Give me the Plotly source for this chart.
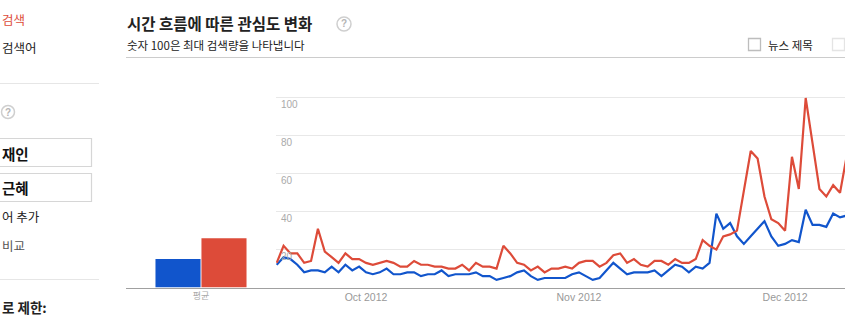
import pandas as pd
import plotly.graph_objects as go

# ---------------- data ----------------
start_date = "2012-09-18"
red_name = "박근혜"
blue_name = "문재인"
red_values = [13, 22, 18, 18, 13, 14, 31, 19, 16, 13, 18, 15, 15, 13, 12, 13, 14, 13, 11, 11,
              14, 12, 12, 11, 11, 10, 10, 12, 9, 13, 11, 11, 10, 22, 18, 13, 12, 9, 11, 8,
              10, 10, 11, 10, 13, 14, 14, 11, 13, 17, 18, 13, 15, 12, 11, 14, 14, 12, 15, 13,
              13, 15, 25, 22, 20, 27, 28, 30, 51, 72, 68, 48, 36, 34, 30, 69, 52, 100, 76, 52,
              48, 54, 50, 70]
blue_values = [12, 16, 15, 12, 8, 9, 9, 8, 11, 8, 12, 9, 11, 8, 7, 8, 10, 7, 7, 8,
               8, 6, 7, 7, 9, 6, 7, 7, 7, 8, 6, 6, 4, 5, 6, 8, 9, 6, 4, 5,
               5, 5, 5, 7, 8, 6, 4, 5, 9, 13, 10, 7, 8, 8, 8, 9, 6, 9, 12, 11,
               8, 11, 10, 13, 39, 31, 34, 27, 23, 27, 31, 35, 27, 22, 23, 25, 24, 41, 33, 33,
               32, 39, 37, 38]
avg_label = "평균"
avg_blue = 15
avg_red = 26
y_ticks = [20, 40, 60, 80, 100]
dates = pd.date_range(start_date, periods=len(red_values), freq="D")

BLUE = "#1155CC"
RED = "#DD4B39"
W, H = 845, 317


def px(x):
    return x / W


def py(y):
    return 1 - y / H


y0_px, ytop_px = 287.5, 88.5  # value 0 and value 105
ydom = [py(y0_px), py(ytop_px)]

fig = go.Figure()

# average bars
fig.add_trace(go.Bar(x=[avg_label], y=[avg_blue], marker_color=BLUE, marker_line_width=0,
                     name=blue_name, xaxis="x", yaxis="y", showlegend=False))
fig.add_trace(go.Bar(x=[avg_label], y=[avg_red], marker_color=RED, marker_line_width=0,
                     name=red_name, xaxis="x", yaxis="y", showlegend=False))

# time series
fig.add_trace(go.Scatter(x=dates, y=blue_values, mode="lines", name=blue_name,
                         line=dict(color=BLUE, width=2.2), xaxis="x2", yaxis="y2",
                         showlegend=False))
fig.add_trace(go.Scatter(x=dates, y=red_values, mode="lines", name=red_name,
                         line=dict(color=RED, width=2.2), xaxis="x2", yaxis="y2",
                         showlegend=False))

day_px = 6.87
first_px = 276.7
range_start = pd.Timestamp(start_date) - pd.Timedelta(days=(first_px - 276) / day_px)
range_end = pd.Timestamp(start_date) + pd.Timedelta(days=(845 - first_px) / day_px)

fig.update_layout(
    width=W, height=H,
    margin=dict(l=0, r=0, t=0, b=0),
    paper_bgcolor="white", plot_bgcolor="white",
    font=dict(family="Liberation Sans, Noto Sans CJK KR, sans-serif", color="#222"),
    barmode="group", bargap=0.387, bargroupgap=0.02,
    xaxis=dict(domain=[px(126), px(276)], anchor="y", type="category",
               showline=True, linecolor="#a0a0a0", linewidth=1.3, ticks="",
               tickfont=dict(size=9, color="#aaa", family="Noto Sans CJK KR"),
               showgrid=False, fixedrange=True),
    yaxis=dict(domain=ydom, anchor="x", range=[0, 105], visible=False,
               showgrid=False, zeroline=False),
    xaxis2=dict(domain=[px(276), 1], anchor="y2", type="date",
                range=[range_start, range_end],
                dtick="M1", tick0="2012-09-01", tickformat="%b %Y",
                showline=True, linecolor="#a0a0a0", linewidth=1.3, ticks="",
                tickfont=dict(size=10.5, color="#999"), showgrid=False),
    yaxis2=dict(domain=ydom, anchor="x2", range=[0, 105], tickvals=y_ticks,
                ticklabelposition="inside", ticklabelshift=7, ticklabelstandoff=2,
                tickfont=dict(size=10, color="#aaa"),
                showgrid=True, gridcolor="#e8e8e8", gridwidth=1,
                zeroline=False, showline=False, ticks=""),
)

shapes = []
annos = []


def text(x, y, s, size=12, color="#222", bold=False, xanchor="left", family="Noto Sans CJK KR"):
    annos.append(dict(x=px(x), y=py(y), xref="paper", yref="paper", text=("<b>%s</b>" % s) if bold else s,
                      showarrow=False, xanchor=xanchor, yanchor="middle",
                      font=dict(size=size, color=color, family=family), borderpad=0))


def hline(x0, x1, y, color, w=1):
    shapes.append(dict(type="line", xref="paper", yref="paper", x0=px(x0), x1=px(x1),
                       y0=py(y), y1=py(y), line=dict(color=color, width=w)))


def rect(x0, y0, x1, y1, color, w=1):
    shapes.append(dict(type="rect", xref="paper", yref="paper", x0=px(x0), x1=px(x1),
                       y0=py(y1), y1=py(y0), line=dict(color=color, width=w)))


def qcircle(cx, cy, r=7):
    shapes.append(dict(type="circle", xref="paper", yref="paper", x0=px(cx - r), x1=px(cx + r),
                       y0=py(cy + r), y1=py(cy - r), line=dict(color="#cfcfcf", width=1.5)))
    text(cx, cy, "?", size=10, color="#b5b5b5", bold=True, xanchor="center",
         family="Liberation Sans")


# header
text(126, 23.5, "시간 흐름에 따른 관심도 변화", size=15.5, bold=True, color="#222")
qcircle(344, 24)
text(126, 45, "숫자 100은 최대 검색량을 나타냅니다", size=11.5, color="#222")
hline(126, 845, 57.5, "#cccccc", 1.2)
rect(748.5, 38.5, 760.5, 50.5, "#bdbdbd", 1.3)
text(767, 44.5, "뉴스 제목", size=11.5, color="#222")
rect(832.5, 38.5, 844.5, 50.5, "#e4e4e4", 1.3)

# left sidebar (page is cut at the left edge; visible parts kept inside)
text(1, 19.5, "검색", size=12.5, color=RED)
text(1, 48, "검색어", size=12.5, color="#222")
hline(-5, 99, 83.5, "#e6e6e6", 1)
qcircle(8, 112, r=6.5)
rect(-10, 138.5, 91.5, 166.5, "#d6d6d6", 1.2)
text(1, 153, "재인", size=14.5, bold=True, color="#111")
rect(-10, 173.5, 91.5, 201.5, "#d6d6d6", 1.2)
text(1, 187.5, "근혜", size=14.5, bold=True, color="#111")
text(1, 216.5, "어 추가", size=12.5, color="#222")
text(1, 245.5, "비교", size=12.5, color="#555")
hline(-5, 99, 279.5, "#e6e6e6", 1)
text(1, 306.5, "로 제한:", size=13.5, bold=True, color="#222")

fig.update_layout(shapes=shapes, annotations=annos)
fig.write_html("out.html")
